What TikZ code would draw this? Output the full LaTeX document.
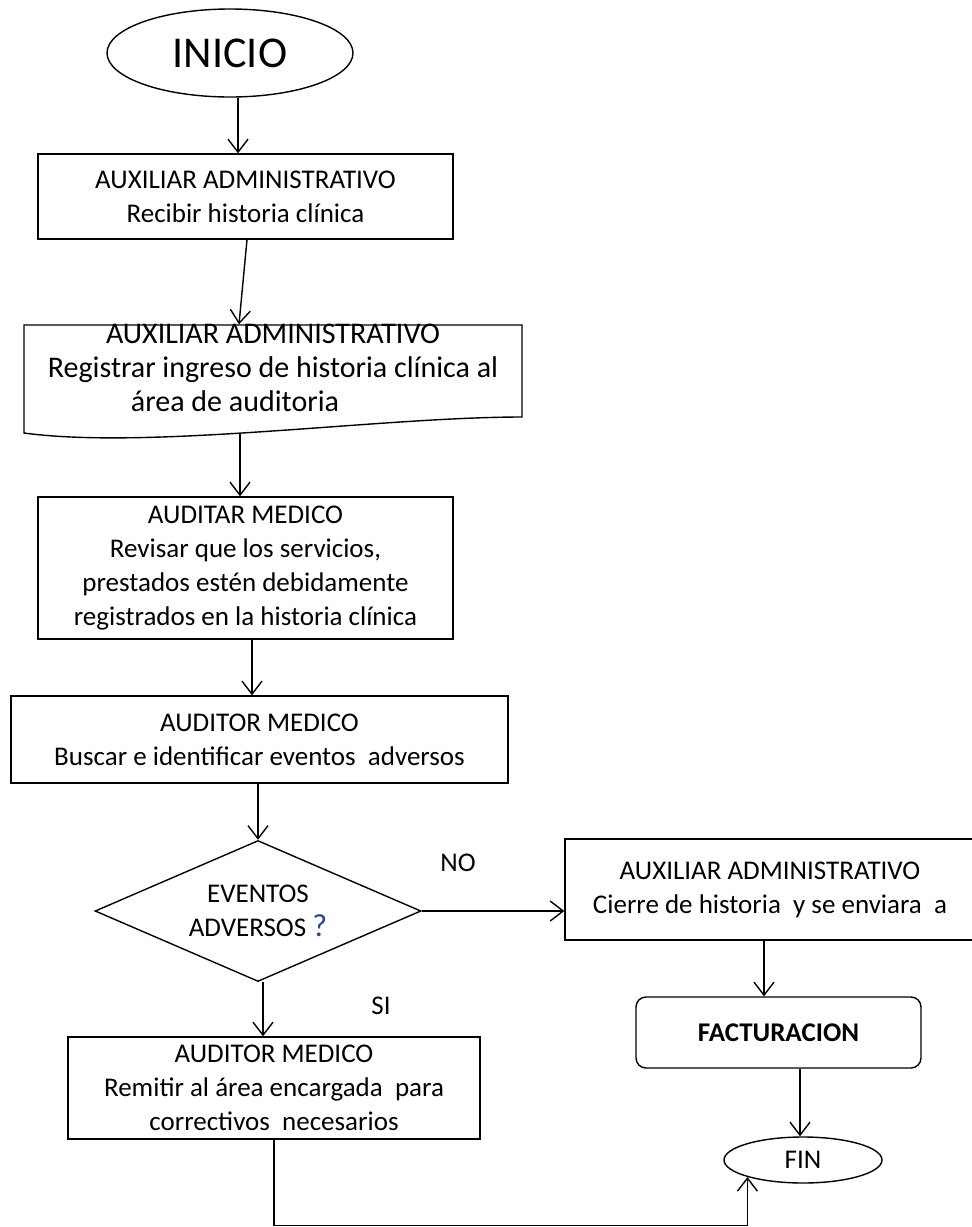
\documentclass[tikz,border=0pt]{standalone}
\usepackage{fontspec}
\setmainfont{Carlito}
\usetikzlibrary{shapes.geometric, arrows.meta}
\definecolor{azulpregunta}{RGB}{40,70,140}

\begin{document}
\begin{tikzpicture}[x=1pt, y=-1pt, line width=1.4pt,
    >={Straight Barb[length=13pt, width=20pt]},
    caja/.style={draw, rectangle, inner sep=0pt, align=center, font=\fontsize{27}{34}\selectfont},
    terminal/.style={draw, ellipse, inner sep=0pt},
    decision/.style={draw, diamond, aspect=2.3, inner sep=0pt, align=center, font=\fontsize{27}{34}\selectfont},
    etiqueta/.style={inner sep=0pt, font=\fontsize{27}{34}\selectfont}]
  \useasboundingbox (0,0) rectangle (972,1227);

  \node[terminal, minimum width=246pt, minimum height=88pt, font=\fontsize{44}{50}\selectfont] (inicio) at (230,53) {INICIO};
  \node[caja, minimum width=415pt, minimum height=85pt] (recibir) at (245.5,196.5) {AUXILIAR ADMINISTRATIVO\\Recibir historia clínica};
  \node[inner sep=0pt, minimum width=498pt, minimum height=108pt] (registro) at (273,379) {};
  \node[etiqueta, align=center, font=\fontsize{30}{34}\selectfont] (registrotxt) at (273,368) {AUXILIAR ADMINISTRATIVO\\Registrar ingreso de historia clínica al\\área de auditoria\hspace*{76pt}};
  \node[caja, minimum width=415pt, minimum height=142pt] (auditar) at (245.5,568) {AUDITAR MEDICO\\Revisar que los servicios,\\prestados estén debidamente\\registrados en la historia clínica};
  \node[caja, minimum width=497pt, minimum height=87pt] (buscar) at (259.5,739.5) {AUDITOR MEDICO\\Buscar e identificar eventos \ adversos};
  \node[decision, minimum width=326pt, minimum height=141pt] (eventos) at (258,911) {EVENTOS\\ADVERSOS {\color{azulpregunta}\fontsize{32}{34}\selectfont ?}};
  \node[caja, minimum width=412pt, minimum height=102pt] (remitir) at (274,1088) {AUDITOR MEDICO\\Remitir al área encargada \ para\\correctivos \ necesarios};
  \node[caja, minimum width=410pt, minimum height=101pt] (cierre) at (770,889.5) {AUXILIAR ADMINISTRATIVO\\Cierre de historia \ y se enviara \ a};
  \node[caja, rounded corners=10pt, minimum width=285pt, minimum height=71pt, font=\fontsize{27}{34}\selectfont\bfseries] (facturacion) at (778.5,1032.5) {FACTURACION};
  \node[terminal, minimum width=158pt, minimum height=46pt, font=\fontsize{27}{34}\selectfont] (fin) at (803,1160) {FIN};
  \node[etiqueta] (no) at (458,863) {NO};
  \node[etiqueta] (si) at (381,1006) {SI};

  % hoja con borde ondulado
  \draw ([shift={(-249,-54)}]registro.center) -- ([shift={(249,-54)}]registro.center)
    -- ([shift={(249,38)}]registro.center)
    .. controls ([shift={(107,38)}]registro.center) and ([shift={(-123,71)}]registro.center) .. ([shift={(-249,54)}]registro.center)
    -- cycle;

  \draw[->] ([xshift=8pt]inicio.south) -- ([xshift=-7.5pt]recibir.north);
  \draw[->] ([xshift=1.5pt]recibir.south) -- ([xshift=-34pt]registro.north);
  \draw[->] ([xshift=-33pt]registro.south) -- ([xshift=-5.5pt]auditar.north);
  \draw[->] ([xshift=6.5pt]auditar.south) -- ([xshift=-7.5pt]buscar.north);
  \draw[->] ([xshift=-1.5pt]buscar.south) -- (eventos.north);
  \draw[->] (eventos.east) -- (eventos.east -| cierre.west);
  \draw[->] ([xshift=5pt]eventos.south) -- ([xshift=-11pt]remitir.north);
  \draw[->] ([xshift=-6pt]cierre.south) -- ([xshift=-14.5pt]facturacion.north);
  \draw[->] ([xshift=21.5pt]facturacion.south) -- ([xshift=-3pt]fin.north);
  \draw[->] (remitir.south) -- ++(0,86) -| (fin.197);
\end{tikzpicture}
\end{document}
